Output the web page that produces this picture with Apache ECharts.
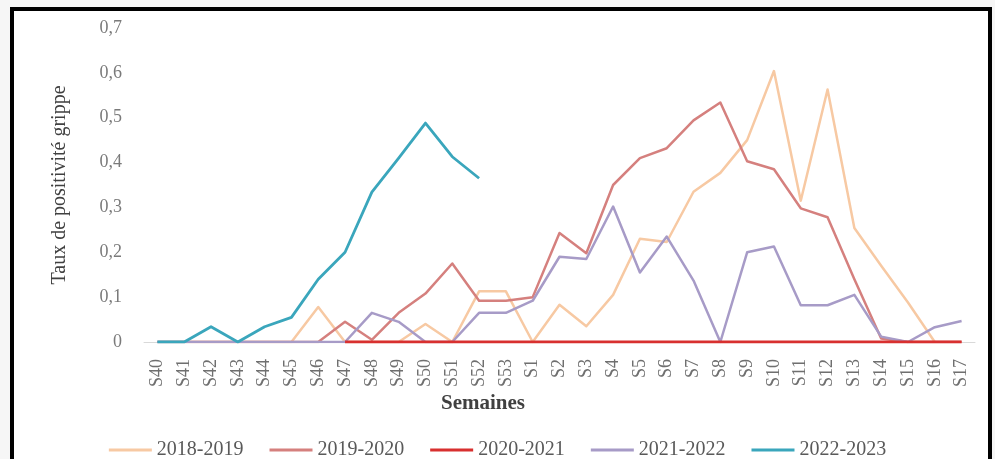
<!DOCTYPE html>
<html>
<head>
<meta charset="utf-8">
<script src="https://cdn.jsdelivr.net/npm/echarts@6/dist/echarts.min.js"></script>
<style>
  html, body { margin: 0; padding: 0; background: #f6f6f6; }
  #chart { width: 995px; height: 459px; }
</style>
</head>
<body>
<div id="chart"></div>
<script>
// Weekly flu positivity rate per season (S40 -> S17)
const weeks = ['S40','S41','S42','S43','S44','S45','S46','S47','S48','S49','S50','S51','S52','S53',
  'S1','S2','S3','S4','S5','S6','S7','S8','S9','S10','S11','S12','S13','S14','S15','S16','S17'];

const yTicks = [0, 0.1, 0.2, 0.3, 0.4, 0.5, 0.6, 0.7];

const s2018_2019 = [0,0,0,0,0,0,0.078,0,0,0,0.04,0,0.113,0.113,
  0,0.083,0.035,0.105,0.23,0.223,0.335,0.377,0.45,0.604,0.315,0.563,0.254,0.17,0.088,0,null];

const s2019_2020 = [0,0,0,0,0,0,0,0.045,0.005,0.065,0.108,0.175,0.092,0.092,
  0.1,0.243,0.198,0.35,0.41,0.432,0.494,0.534,0.403,0.385,0.298,0.278,0.14,0.008,0,0,0];

const s2020_2021 = [null,null,null,null,null,null,null,0,0,0,0,0,0,0,
  0,0,0,0,0,0,0,0,0,0,0,0,0,0,0,0,0];

const s2021_2022 = [0,0,0,0,0,0,0,0,0.065,0.045,0,0,0.065,0.065,
  0.092,0.19,0.185,0.302,0.155,0.235,0.137,0,0.2,0.213,0.082,0.082,0.105,0.012,0,0.033,0.047];

const s2022_2023 = [0,0,0.034,0,0.034,0.055,0.14,0.2,0.334,0.41,0.488,0.413,0.365,null,
  null,null,null,null,null,null,null,null,null,null,null,null,null,null,null,null,null];

const seasons = [
  { name: '2018-2019', data: s2018_2019, color: '#f7c9a3', width: 2.5, z: 2 },
  { name: '2019-2020', data: s2019_2020, color: '#d5807e', width: 2.5, z: 3 },
  { name: '2020-2021', data: s2020_2021, color: '#d8302f', width: 3, z: 5 },
  { name: '2021-2022', data: s2021_2022, color: '#a79bc7', width: 2.5, z: 4 },
  { name: '2022-2023', data: s2022_2023, color: '#3aa6bc', width: 2.8, z: 6 }
];

const serif = '"Liberation Serif", "Times New Roman", serif';

const chart = echarts.init(document.getElementById('chart'), null, { renderer: 'canvas' });

chart.setOption({
  animation: false,
  backgroundColor: '#f6f6f6',
  graphic: [
    {
      type: 'rect',
      z: -10,
      shape: { x: 12, y: 9, width: 978, height: 470 },
      style: { fill: '#ffffff', stroke: '#000000', lineWidth: 4 }
    },
    {
      // x-axis title, placed under the week labels
      type: 'text',
      x: 483,
      y: 404,
      style: {
        text: 'Semaines',
        fontFamily: serif,
        fontSize: 21,
        fontWeight: 'bold',
        fill: '#404040',
        align: 'center',
        verticalAlign: 'middle'
      }
    }
  ],
  grid: { left: 144, right: 20, top: 28, bottom: 117, containLabel: false },
  legend: {
    data: seasons.map(s => s.name),
    top: 435,
    left: 'center',
    icon: 'rect',
    itemWidth: 43,
    itemHeight: 3,
    itemGap: 26,
    textStyle: { fontFamily: serif, fontSize: 20, color: '#595959' }
  },
  xAxis: {
    type: 'category',
    data: weeks,
    boundaryGap: true,
    axisLine: { lineStyle: { color: '#d9d9d9', width: 1 } },
    axisTick: { show: false },
    axisLabel: {
      interval: 0,
      rotate: 90,
      margin: 17,
      fontFamily: serif,
      fontSize: 18,
      color: '#6f6f6f'
    }
  },
  yAxis: {
    type: 'value',
    min: yTicks[0],
    max: yTicks[yTicks.length - 1],
    interval: 0.1,
    name: 'Taux de positivité grippe',
    nameLocation: 'middle',
    nameGap: 74,
    nameTextStyle: { fontFamily: serif, fontSize: 20, color: '#404040' },
    axisLine: { show: false },
    axisTick: { show: false },
    splitLine: { show: false },
    axisLabel: {
      margin: 22,
      fontFamily: serif,
      fontSize: 18,
      color: '#7a7a7a',
      formatter: v => (Math.round(v * 10) / 10).toString().replace('.', ',')
    }
  },
  series: seasons.map(s => ({
    name: s.name,
    type: 'line',
    data: s.data,
    symbol: 'none',
    z: s.z,
    color: s.color,
    lineStyle: { color: s.color, width: s.width, join: 'round' }
  }))
});
</script>
</body>
</html>
